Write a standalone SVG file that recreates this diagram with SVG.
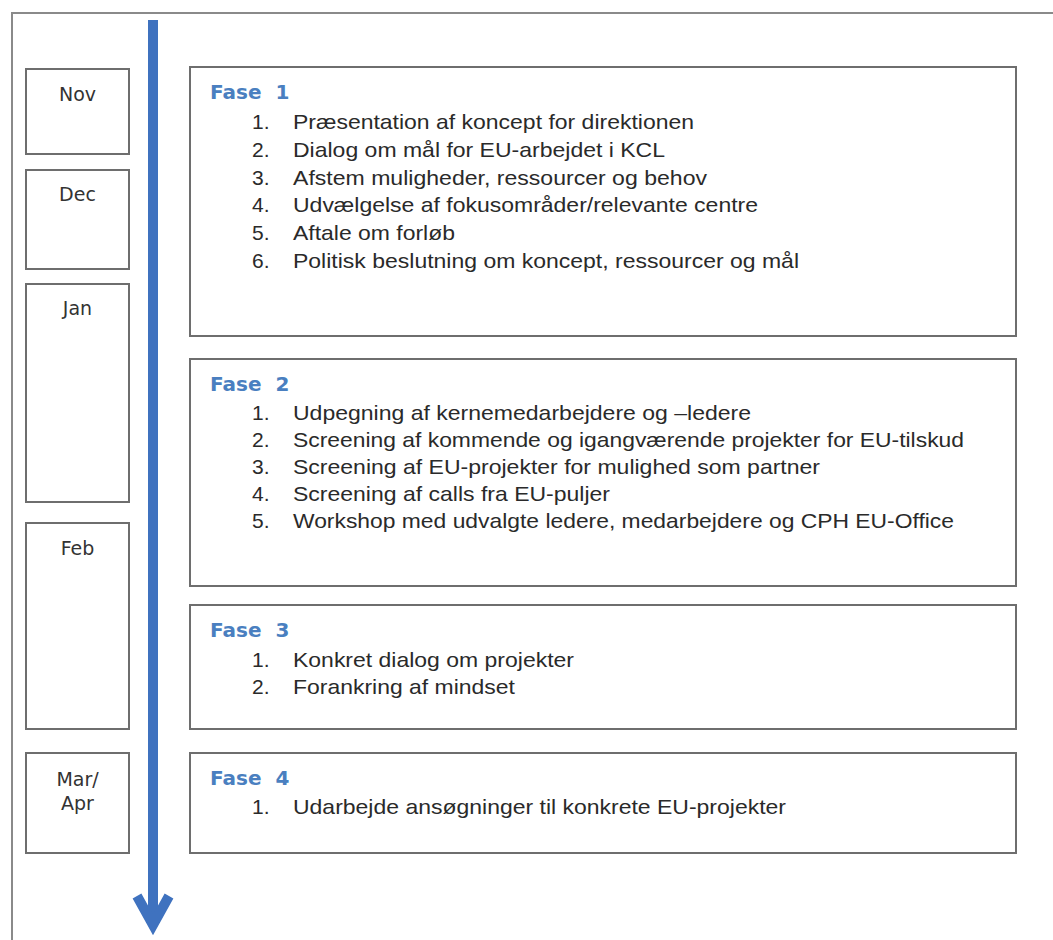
<svg xmlns="http://www.w3.org/2000/svg" width="1053" height="940" viewBox="0 0 1053 940">
<style>
.frame{fill:none;stroke:#8a8a8a;stroke-width:2}
.box{fill:#fff;stroke:#6e6e6e;stroke-width:2}
.month{font-family:"DejaVu Sans",Verdana,sans-serif;font-size:19px;fill:#333;text-anchor:middle}
.fase{font-family:"DejaVu Sans","Verdana",sans-serif;font-weight:bold;font-size:20px;fill:#4a7fc0;word-spacing:7px}
.num{font-family:"Liberation Sans",Arial,sans-serif;font-size:21px;fill:#2a2a2a}
.item{font-family:"Liberation Sans",Arial,sans-serif;font-size:21px;fill:#2a2a2a}
.arrow{fill:none;stroke:#3f72bf;stroke-width:10}
</style>
<rect x="0" y="0" width="1053" height="940" fill="#fff"/>
<path class="frame" d="M12,945 L12,13 L1060,13"/>

<g id="connectors">
  <line class="arrow" x1="153" y1="20" x2="153" y2="926"/>
  <path class="arrow" d="M137,896 L153,925 L169,896" stroke-linejoin="miter" stroke-miterlimit="10"/>
</g>

<g id="month-nov">
  <rect class="box" x="26" y="69" width="103" height="85"/>
  <text class="month" x="77.5" y="101">Nov</text>
</g>
<g id="month-dec">
  <rect class="box" x="26" y="170" width="103" height="99"/>
  <text class="month" x="77.5" y="201">Dec</text>
</g>
<g id="month-jan">
  <rect class="box" x="26" y="284" width="103" height="218"/>
  <text class="month" x="77.5" y="315">Jan</text>
</g>
<g id="month-feb">
  <rect class="box" x="26" y="523" width="103" height="206"/>
  <text class="month" x="77.5" y="555">Feb</text>
</g>
<g id="month-mar-apr">
  <rect class="box" x="26" y="753" width="103" height="100"/>
  <text class="month" x="77.5" y="786">Mar/</text>
  <text class="month" x="77.5" y="810">Apr</text>
</g>

<g id="fase-1">
  <rect class="box" x="190" y="67" width="826" height="269"/>
  <text class="fase" x="210" y="99">Fase 1</text>
  <text class="num" x="252" y="129">1.</text><text class="item" x="293" y="129" textLength="401" lengthAdjust="spacingAndGlyphs">Præsentation af koncept for direktionen</text>
  <text class="num" x="252" y="157">2.</text><text class="item" x="293" y="157" textLength="372" lengthAdjust="spacingAndGlyphs">Dialog om mål for EU-arbejdet i KCL</text>
  <text class="num" x="252" y="185">3.</text><text class="item" x="293" y="185" textLength="414" lengthAdjust="spacingAndGlyphs">Afstem muligheder, ressourcer og behov</text>
  <text class="num" x="252" y="212">4.</text><text class="item" x="293" y="212" textLength="465" lengthAdjust="spacingAndGlyphs">Udvælgelse af fokusområder/relevante centre</text>
  <text class="num" x="252" y="240">5.</text><text class="item" x="293" y="240" textLength="162" lengthAdjust="spacingAndGlyphs">Aftale om forløb</text>
  <text class="num" x="252" y="268">6.</text><text class="item" x="293" y="268" textLength="506" lengthAdjust="spacingAndGlyphs">Politisk beslutning om koncept, ressourcer og mål</text>
</g>

<g id="fase-2">
  <rect class="box" x="190" y="359" width="826" height="227"/>
  <text class="fase" x="210" y="391">Fase 2</text>
  <text class="num" x="252" y="420">1.</text><text class="item" x="293" y="420" textLength="458" lengthAdjust="spacingAndGlyphs">Udpegning af kernemedarbejdere og –ledere</text>
  <text class="num" x="252" y="447">2.</text><text class="item" x="293" y="447" textLength="671" lengthAdjust="spacingAndGlyphs">Screening af kommende og igangværende projekter for EU-tilskud</text>
  <text class="num" x="252" y="474">3.</text><text class="item" x="293" y="474" textLength="527" lengthAdjust="spacingAndGlyphs">Screening af EU-projekter for mulighed som partner</text>
  <text class="num" x="252" y="501">4.</text><text class="item" x="293" y="501" textLength="317" lengthAdjust="spacingAndGlyphs">Screening af calls fra EU-puljer</text>
  <text class="num" x="252" y="528">5.</text><text class="item" x="293" y="528" textLength="661" lengthAdjust="spacingAndGlyphs">Workshop med udvalgte ledere, medarbejdere og CPH EU-Office</text>
</g>

<g id="fase-3">
  <rect class="box" x="190" y="605" width="826" height="124"/>
  <text class="fase" x="210" y="637">Fase 3</text>
  <text class="num" x="252" y="667">1.</text><text class="item" x="293" y="667" textLength="281" lengthAdjust="spacingAndGlyphs">Konkret dialog om projekter</text>
  <text class="num" x="252" y="694">2.</text><text class="item" x="293" y="694" textLength="222" lengthAdjust="spacingAndGlyphs">Forankring af mindset</text>
</g>

<g id="fase-4">
  <rect class="box" x="190" y="753" width="826" height="100"/>
  <text class="fase" x="210" y="785">Fase 4</text>
  <text class="num" x="252" y="814">1.</text><text class="item" x="293" y="814" textLength="493" lengthAdjust="spacingAndGlyphs">Udarbejde ansøgninger til konkrete EU-projekter</text>
</g>
</svg>
